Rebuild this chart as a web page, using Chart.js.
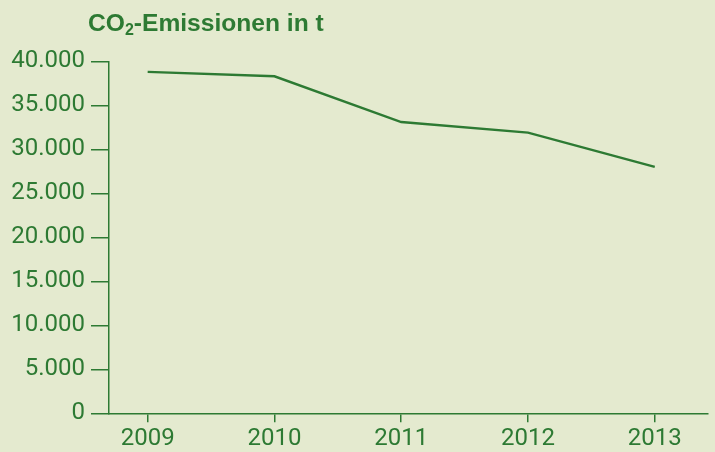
<!DOCTYPE html>
<html><head><meta charset="utf-8">
<script src="https://cdn.jsdelivr.net/npm/chart.js@4/dist/chart.umd.min.js"></script>
<style>html,body{margin:0;padding:0;background:#e4eacf}#w{width:715px;height:452px;position:relative}</style>
</head><body><div id="w"><canvas id="c"></canvas></div>
<script>
const years = [2009, 2010, 2011, 2012, 2013];
const emissions = [38800, 38300, 33100, 31900, 28000];
const yTickValues = [0, 5000, 10000, 15000, 20000, 25000, 30000, 35000, 40000];
const yTickLabels = ['0', '5.000', '10.000', '15.000', '20.000', '25.000', '30.000', '35.000', '40.000'];
const titleMain = 'CO';
const titleSub = '2';
const titleRest = '-Emissionen in t';

const GREEN = '#2d7a33';
const BG = '#e4eacf';

const titlePlugin = {
  id: 'subTitle',
  afterDraw(chart) {
    const ctx = chart.ctx;
    ctx.save();
    ctx.fillStyle = GREEN;
    ctx.textBaseline = 'alphabetic';
    ctx.textAlign = 'left';
    let x = 88, y = 31;
    ctx.font = 'bold 24.6px "Liberation Sans", Arial, sans-serif';
    ctx.fillText(titleMain, x, y);
    x += ctx.measureText(titleMain).width;
    ctx.font = 'bold 16px "Liberation Sans", Arial, sans-serif';
    ctx.fillText(titleSub, x, y + 4);
    x += ctx.measureText(titleSub).width;
    ctx.font = 'bold 24.6px "Liberation Sans", Arial, sans-serif';
    ctx.fillText(titleRest, x, y);
    ctx.restore();
  }
};
const bgPlugin = {
  id: 'bg',
  beforeDraw(chart) {
    const ctx = chart.ctx;
    ctx.save();
    ctx.fillStyle = BG;
    ctx.fillRect(0, 0, chart.width, chart.height);
    ctx.restore();
  }
};

new Chart(document.getElementById('c'), {
  type: 'line',
  data: {
    datasets: [{
      data: years.map((y, i) => ({ x: y, y: emissions[i] })),
      borderColor: GREEN,
      borderWidth: 2.4,
      pointRadius: 0,
      tension: 0,
      fill: false
    }]
  },
  options: {
    responsive: true,
    maintainAspectRatio: false,
    animation: false,
    layout: { padding: { top: 61.3, right: 7, left: 0, bottom: 0 } },
    plugins: { legend: { display: false }, tooltip: { enabled: false }, title: { display: false } },
    scales: {
      x: {
        type: 'linear',
        min: 2008.695,
        max: 2013.42,
        afterBuildTicks: a => { a.ticks = years.map(v => ({ value: v })); },
        afterFit: a => { a.height = 38.7; },
        ticks: { callback: v => String(v), color: GREEN, font: { family: 'Roboto', size: 24 }, padding: 2.5, maxRotation: 0, autoSkip: false },
        grid: { drawOnChartArea: false, tickLength: 9, color: GREEN, lineWidth: 1.5 },
        border: { color: GREEN, width: 1.5 }
      },
      y: {
        min: 0,
        max: 40000,
        afterBuildTicks: a => { a.ticks = yTickValues.map(v => ({ value: v })); },
        afterFit: a => { a.width = 109; },
        ticks: { callback: v => yTickLabels[yTickValues.indexOf(v)], color: GREEN, font: { family: 'Roboto', size: 24 }, padding: 6 },
        grid: { drawOnChartArea: false, tickLength: 18, color: GREEN, lineWidth: 1.5 },
        border: { color: GREEN, width: 1.5 }
      }
    }
  },
  plugins: [bgPlugin, titlePlugin]
});
</script>
</body></html>
